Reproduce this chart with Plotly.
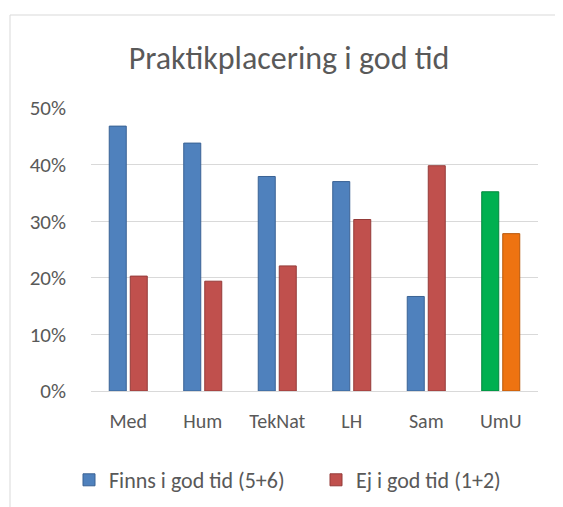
import plotly.graph_objects as go

categories = ["Med", "Hum", "TekNat", "LH", "Sam", "UmU"]
finns = [0.468, 0.438, 0.379, 0.370, 0.167, 0.352]
ej = [0.203, 0.194, 0.221, 0.303, 0.398, 0.278]
series_names = ["Finns i god tid (5+6)", "Ej i god tid (1+2)"]
y_ticks = [0, 0.1, 0.2, 0.3, 0.4, 0.5]
y_ticktext = ["0%", "10%", "20%", "30%", "40%", "50%"]

BLUE, BLUE_D = "#4F81BD", "#3A6294"
RED, RED_D = "#C0504D", "#943B39"
GREEN, GREEN_D = "#00B050", "#00873D"
ORANGE, ORANGE_D = "#EE7311", "#B85708"

FONT = "Calibri, Carlito, Lato, sans-serif"
TXT = "#595959"

c1 = [BLUE] * 5 + [GREEN]
l1 = [BLUE_D] * 5 + [GREEN_D]
c2 = [RED] * 5 + [ORANGE]
l2 = [RED_D] * 5 + [ORANGE_D]

fig = go.Figure()
fig.add_trace(go.Bar(x=categories, y=finns, name=series_names[0],
                     marker=dict(color=c1, line=dict(color=l1, width=1))))
fig.add_trace(go.Bar(x=categories, y=ej, name=series_names[1],
                     marker=dict(color=c2, line=dict(color=l2, width=1))))

# page offset (browser body margin)
O = 8
W, H = 563 - O, 507 - O
# target pixel positions in the 563x507 picture
PL, PR, PT, PB = 91, 538, 108, 391
L, R, T, B = PL - O, (563 - PR), PT - O, (507 - PB)
pw, ph = W - L - R, H - T - B


def px_x(x):
    return (x - O - L) / pw


def px_y(y):
    return (H - B - (y - O)) / ph


fig.update_layout(
    width=W, height=H,
    margin=dict(l=L, r=R, t=T, b=B, autoexpand=False),
    paper_bgcolor="white", plot_bgcolor="white",
    barmode="group", bargap=0.436, bargroupgap=0.19,
    font=dict(family=FONT, color=TXT, size=20),
    title=dict(text="Praktikplacering i god tid", x=(289 - O) / W, xref="container",
               xanchor="center", y=1 - (58 - O) / H, yanchor="middle",
               font=dict(size=32, color=TXT, family=FONT)),
    showlegend=True,
    legend=dict(orientation="h", x=px_x(69), xanchor="left",
                y=px_y(480), yanchor="middle",
                font=dict(size=22, color=TXT, family=FONT),
                itemwidth=30, entrywidth=202, bgcolor="rgba(0,0,0,0)"),
    xaxis=dict(showgrid=False, showline=True, linecolor="#D9D9D9", linewidth=1,
               ticks="", ticklabelstandoff=12, tickfont=dict(size=20, color=TXT)),
    yaxis=dict(range=[0, 0.5], tickvals=y_ticks, ticktext=y_ticktext,
               showgrid=True, gridcolor="#D9D9D9", gridwidth=1, zeroline=False,
               showline=False, ticks="", ticklabelstandoff=24,
               tickfont=dict(size=21, color=TXT)),
)

# chart area border (Excel chart frame), partly cropped in the reference
fig.add_shape(type="rect", xref="paper", yref="paper",
              x0=px_x(10), x1=px_x(600),
              y0=px_y(540), y1=px_y(15),
              line=dict(color="#D9D9D9", width=1), fillcolor="rgba(0,0,0,0)",
              layer="below")

fig.write_html("out.html")
